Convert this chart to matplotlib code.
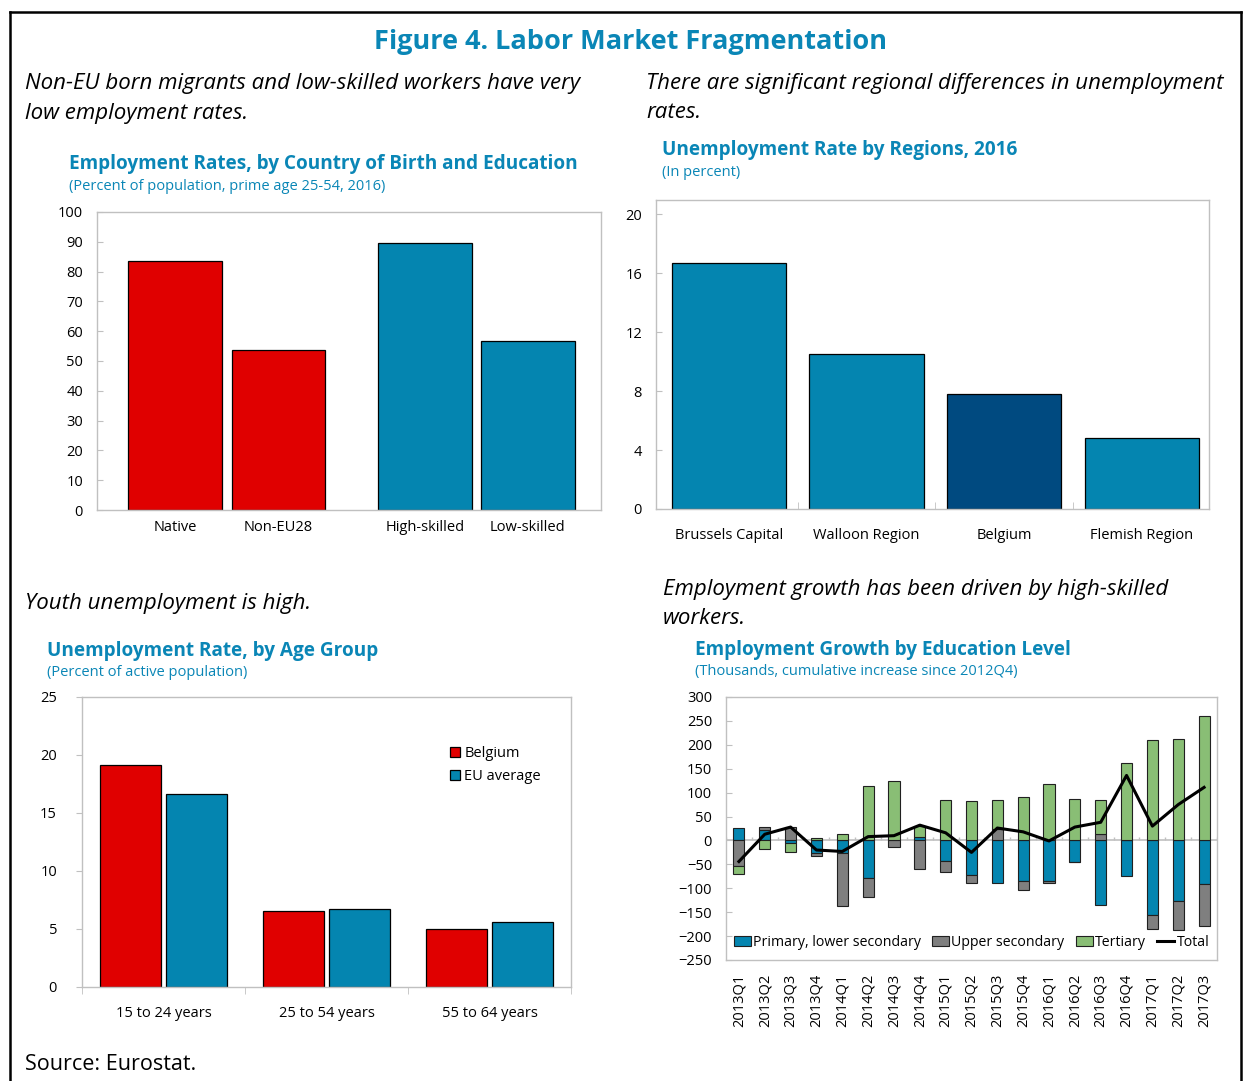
import numpy as np
import matplotlib
matplotlib.use('Agg')
import matplotlib.pyplot as plt
from matplotlib.lines import Line2D

plt.rcParams['font.family'] = ['Open Sans', 'DejaVu Sans']

W, H = 1243, 1081

TEAL = '#0A86B6'
RED = '#E00000'
BLUE = '#0485B0'
DARK = '#004A80'
GREEN = '#89BE75'
GRAY = '#7F7F7F'
SPINE = '#C0C0C0'

# --- data ---
birth_labels = ['Native', 'Non-EU28', 'High-skilled', 'Low-skilled']
birth_values = [83.6, 53.7, 89.6, 56.7]

region_labels = ['Brussels Capital', 'Walloon Region', 'Belgium', 'Flemish Region']
region_values = [16.7, 10.5, 7.8, 4.8]

age_labels = ['15 to 24 years', '25 to 54 years', '55 to 64 years']
age_belgium = [19.1, 6.55, 5.0]
age_eu = [16.6, 6.7, 5.6]

quarters = ['2013Q1', '2013Q2', '2013Q3', '2013Q4', '2014Q1', '2014Q2', '2014Q3',
            '2014Q4', '2015Q1', '2015Q2', '2015Q3', '2015Q4', '2016Q1', '2016Q2',
            '2016Q3', '2016Q4', '2017Q1', '2017Q2', '2017Q3']
primary = [26, 21, -5, -27, -27, -78, 0, 8, -44, -73, -88, -84, -84, -45, -135, -75, -155, -127, -92]
upper = [-53, 8, 29, -6, -111, -40, -14, -60, -22, -15, 24, -19, -4, -1, 13, 1, -30, -60, -86]
tertiary = [-18, -18, -19, 6, 13, 114, 125, 23, 84, 83, 60, 91, 119, 87, 72, 162, 210, 213, 260]
total = [-44, 13, 28, -20, -23, 8, 10, 32, 16, -25, 26, 18, -1, 28, 38, 136, 30, 75, 111]


def px_axes(fig, left, top, right, bottom):
    return fig.add_axes([left / W, 1 - bottom / H, (right - left) / W, (bottom - top) / H])


def txt(fig, x, y, s, **kw):
    kw.setdefault('va', 'center')
    fig.text(x / W, 1 - y / H, s, **kw)


def style(ax, tickdir='in'):
    for sp in ax.spines.values():
        sp.set_color(SPINE)
        sp.set_linewidth(1.0)
    ax.tick_params(axis='both', colors=SPINE, labelcolor='black', labelsize=10.5,
                   length=4, direction=tickdir)


fig = plt.figure(figsize=(W / 100, H / 100), dpi=100)

# outer frame
fig.add_artist(Line2D([10 / W, 1241 / W], [1 - 12 / H, 1 - 12 / H], color='black', lw=1.8))
fig.add_artist(Line2D([10 / W, 10 / W], [1 - 12 / H, 0], color='black', lw=1.8))
fig.add_artist(Line2D([1241 / W, 1241 / W], [1 - 12 / H, 0], color='black', lw=1.8))

txt(fig, 631, 42, 'Figure 4. Labor Market Fragmentation', ha='center', color=TEAL,
    fontsize=19.5, fontweight='bold')

it = dict(fontsize=16.0, style='italic', ha='left')
txt(fig, 25, 84, 'Non-EU born migrants and low-skilled workers have very', **it)
txt(fig, 25, 113, 'low employment rates.', **it)
txt(fig, 646, 84, 'There are significant regional differences in unemployment', **it)
txt(fig, 646, 113, 'rates.', **it)
txt(fig, 25, 604, 'Youth unemployment is high.', **it)
txt(fig, 663, 590, 'Employment growth has been driven by high-skilled', **it)
txt(fig, 663, 619, 'workers.', **it)
txt(fig, 25, 1065, 'Source: Eurostat.', fontsize=15.5, ha='left')

tt = dict(fontsize=13.7, fontweight='bold', color=TEAL, ha='left')
st = dict(fontsize=10.5, color=TEAL, ha='left')
txt(fig, 69, 164, 'Employment Rates, by Country of Birth and Education', **tt)
txt(fig, 69, 187, '(Percent of population, prime age 25-54, 2016)', **st)
txt(fig, 662, 150, 'Unemployment Rate by Regions, 2016', **tt)
txt(fig, 662, 173, '(In percent)', **st)
txt(fig, 47, 651, 'Unemployment Rate, by Age Group', **tt)
txt(fig, 47, 673, '(Percent of active population)', **st)
txt(fig, 695, 650, 'Employment Growth by Education Level', **tt)
txt(fig, 695, 672, '(Thousands, cumulative increase since 2012Q4)', **st)

# --- chart 1: employment rates ---
ax1 = px_axes(fig, 97, 212, 601, 510)
pos1 = np.array([0, 1, 2.42, 3.42])
ax1.bar(pos1, birth_values, width=0.91, color=[RED, RED, BLUE, BLUE],
        edgecolor='black', linewidth=0.9)
ax1.set_xlim(-0.76, 4.13)
ax1.set_ylim(0, 100)
ax1.set_yticks(range(0, 101, 10))
ax1.set_xticks(pos1)
ax1.set_xticklabels(birth_labels)
style(ax1)
ax1.tick_params(axis='x', length=0, pad=7)
ax1.tick_params(axis='y', pad=10)

# --- chart 2: regions ---
ax2 = px_axes(fig, 656, 200, 1209, 509)
pos2 = np.arange(len(region_values))
ax2.bar(pos2, region_values, width=0.83, color=[BLUE, BLUE, DARK, BLUE],
        edgecolor='black', linewidth=0.9)
ax2.set_xlim(-0.53, 3.49)
ax2.set_ylim(0, 20.95)
ax2.set_yticks(range(0, 21, 4))
ax2.set_xticks(pos2)
ax2.set_xticklabels(region_labels)
ax2.set_xticks(pos2[:-1] + 0.5, minor=True)
style(ax2)
ax2.tick_params(axis='x', which='major', length=0, pad=14)
ax2.tick_params(axis='x', which='minor', colors=SPINE, length=5, direction='in')
ax2.tick_params(axis='y', pad=10)

# --- chart 3: age groups ---
ax3 = px_axes(fig, 82, 697, 571, 987)
pos3 = np.arange(len(age_labels))
ax3.bar(pos3 - 0.205, age_belgium, width=0.375, color=RED, edgecolor='black',
        linewidth=0.9, label='Belgium')
ax3.bar(pos3 + 0.205, age_eu, width=0.375, color=BLUE, edgecolor='black',
        linewidth=0.9, label='EU average')
ax3.set_xlim(-0.5, 2.5)
ax3.set_ylim(0, 25)
ax3.set_yticks(range(0, 26, 5))
ax3.set_xticks(pos3)
ax3.set_xticklabels(age_labels)
ax3.set_xticks(np.arange(-0.5, 2.6, 1), minor=True)
style(ax3, tickdir='out')
ax3.tick_params(axis='x', which='major', length=0, pad=14)
ax3.tick_params(axis='x', which='minor', colors=SPINE, length=5, direction='out')
ax3.tick_params(axis='y', pad=14)
ax3.legend(loc='upper left', bbox_to_anchor=(0.74, 0.85), frameon=False, fontsize=10.5,
           handlelength=0.7, handleheight=0.7, handletextpad=0.3, labelspacing=0.55,
           borderaxespad=0)

# --- chart 4: employment growth ---
ax4 = px_axes(fig, 726, 697, 1217, 960)
pos4 = np.arange(len(quarters))
pos_base = np.zeros(len(quarters))
neg_base = np.zeros(len(quarters))
for vals, col, lab in [(primary, BLUE, 'Primary, lower secondary'),
                       (upper, GRAY, 'Upper secondary'),
                       (tertiary, GREEN, 'Tertiary')]:
    v = np.array(vals, dtype=float)
    base = np.where(v >= 0, pos_base, neg_base)
    ax4.bar(pos4, v, bottom=base, width=0.43, color=col, edgecolor='#202020',
            linewidth=0.8, label=lab, zorder=3)
    pos_base = pos_base + np.where(v >= 0, v, 0)
    neg_base = neg_base + np.where(v < 0, v, 0)
ax4.axhline(0, color=SPINE, lw=1.2, zorder=2)
ax4.vlines(np.arange(-0.5, len(quarters)), 0, 8, color=SPINE, lw=1, zorder=2)
ax4.plot(pos4, total, color='black', lw=2.2, label='Total', zorder=4)
ax4.set_xlim(-0.5, len(quarters) - 0.5)
ax4.set_ylim(-250, 300)
ax4.set_yticks(range(-250, 301, 50))
ax4.set_xticks(pos4)
ax4.set_xticklabels(quarters, rotation=90)
style(ax4)
ax4.tick_params(axis='x', length=0, pad=10)
ax4.tick_params(axis='y', pad=10)
handles, labels = ax4.get_legend_handles_labels()
order = [labels.index(l) for l in ['Primary, lower secondary', 'Upper secondary',
                                    'Tertiary', 'Total']]
ax4.legend([handles[i] for i in order], [labels[i] for i in order],
           loc='lower center', bbox_to_anchor=(0.5, 0.0), ncol=4, frameon=False,
           fontsize=10.2, handlelength=1.2, handleheight=0.7, handletextpad=0.15,
           columnspacing=0.8, borderaxespad=0.3)

fig.savefig('out.png', dpi=100)
